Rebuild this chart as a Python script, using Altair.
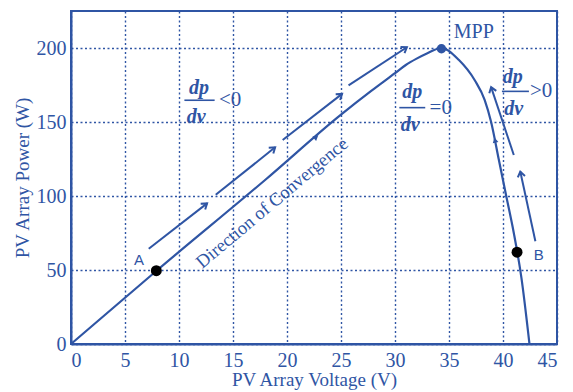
import math
import altair as alt
import pandas as pd

BLUE = "#2f55a4"
SERIF = "Liberation Serif"
SANS = "Liberation Sans"

# P-V curve
volt = [0, 8, 18, 25, 27.8, 30, 31, 32, 33, 34.3, 35.9, 37.4, 38.3, 38.9, 39.6, 40.3, 41.0, 41.7, 42.45]
power = [0, 50, 111, 155, 171, 183, 188.5, 192.8, 196.5, 200, 192, 178, 165, 150, 125, 100, 75, 45, 0]

# marked points
pt_name = ["A", "B"]
pt_v = [7.9, 41.3]
pt_p = [49.5, 62.0]
mpp_v = [34.3]
mpp_p = [199.5]

# point labels
lab_text = ["A", "B"]
lab_v = [6.3, 43.3]
lab_p = [57, 60]

# open arrows (start -> end)
arr_v1 = [7.2, 13.4, 19.6, 25.7, 41.0, 43.0]
arr_p1 = [64.3, 100.8, 137.8, 174.7, 127.7, 69.4]
arr_v2 = [12.6, 18.9, 25.1, 31.1, 38.9, 41.6]
arr_p2 = [95.0, 132.9, 169.0, 200.5, 173.6, 116.5]

# filled arrow heads on the curve (position, direction)
head_v = [22.9, 39.2]
head_p = [141.0, 139.5]
head_dv = [1.0, -0.6]
head_dp = [6.0, 18.0]

# fraction labels
frac_dp_v = [11.85, 31.6, 40.9]
frac_dp_p = [172.7, 170.2, 180.3]
frac_dv_v = [11.6, 31.4, 41.0]
frac_dv_p = [153.4, 147.8, 159.0]
bar_v1 = [10.5, 30.4, 39.9]
bar_v2 = [13.3, 32.8, 42.4]
bar_p = [164.7, 159.7, 170.7]
rel_text = ["<0", "=0", ">0"]
rel_v = [13.7, 33.2, 42.5]

X_MAX, Y_MAX = 45, 225
W, H = 486, 333
sx, sy = W / X_MAX, H / Y_MAX


def ang(dv, dp):
    return math.degrees(math.atan2(-dp * sy, dv * sx)) % 360


xs = alt.Scale(domain=[0, X_MAX], nice=False, zero=False)
ys = alt.Scale(domain=[0, Y_MAX], nice=False, zero=False)

curve_df = pd.DataFrame({"v": volt, "p": power})
base_x = alt.X("v:Q", scale=xs, title="PV Array Voltage (V)",
               axis=alt.Axis(values=list(range(0, 46, 5))))
base_y = alt.Y("p:Q", scale=ys, title="PV Array Power (W)",
               axis=alt.Axis(values=[0, 50, 100, 150, 200]))

curve = alt.Chart(curve_df).mark_line(color=BLUE, strokeWidth=2.2, interpolate="monotone").encode(
    x=base_x, y=base_y)

arr_df = pd.DataFrame({"v": arr_v1, "p": arr_p1, "v2": arr_v2, "p2": arr_p2})
arr_df["a"] = [ang(b - a, d - c) for a, b, c, d in zip(arr_v1, arr_v2, arr_p1, arr_p2)]
shafts = alt.Chart(arr_df).mark_rule(color=BLUE, strokeWidth=2).encode(
    x="v:Q", y="p:Q", x2="v2:Q", y2="p2:Q")
chev = alt.Chart(arr_df).mark_point(
    shape="M-1,-0.7L0,0L-1,0.7", filled=False, color=BLUE, strokeWidth=2, size=110, opacity=1
).encode(x="v2:Q", y="p2:Q", angle=alt.Angle("a:Q", scale=None))

head_df = pd.DataFrame({"v": head_v, "p": head_p})
head_df["a"] = [ang(a, b) for a, b in zip(head_dv, head_dp)]
heads = alt.Chart(head_df).mark_point(
    shape="M-1,-0.55L0,0L-1,0.55Z", filled=True, color=BLUE, size=110, opacity=1
).encode(x="v:Q", y="p:Q", angle=alt.Angle("a:Q", scale=None))

pts = alt.Chart(pd.DataFrame({"v": pt_v, "p": pt_p, "n": pt_name})).mark_circle(
    color="black", size=120, opacity=1).encode(x="v:Q", y="p:Q")
mpp = alt.Chart(pd.DataFrame({"v": mpp_v, "p": mpp_p})).mark_circle(
    color=BLUE, size=90, opacity=1).encode(x="v:Q", y="p:Q")

labs = alt.Chart(pd.DataFrame({"v": lab_v, "p": lab_p, "t": lab_text})).mark_text(
    font=SANS, fontSize=15, color=BLUE).encode(x="v:Q", y="p:Q", text="t:N")

mpp_lab = alt.Chart(pd.DataFrame({"v": [37.3], "p": [210.5], "t": ["MPP"]})).mark_text(
    font=SERIF, fontSize=20, color=BLUE).encode(x="v:Q", y="p:Q", text="t:N")

conv = alt.Chart(pd.DataFrame({"v": [18.6], "p": [95.5], "t": ["Direction of Convergence"]})).mark_text(
    font=SERIF, fontSize=18.5, color=BLUE, angle=320).encode(x="v:Q", y="p:Q", text="t:N")

dp = alt.Chart(pd.DataFrame({"v": frac_dp_v, "p": frac_dp_p})).mark_text(
    font=SERIF, fontSize=20, fontWeight="bold", fontStyle="italic", color=BLUE, text="dp"
).encode(x="v:Q", y="p:Q")
dv = alt.Chart(pd.DataFrame({"v": frac_dv_v, "p": frac_dv_p})).mark_text(
    font=SERIF, fontSize=20, fontWeight="bold", fontStyle="italic", color=BLUE, text="dv"
).encode(x="v:Q", y="p:Q")
bars = alt.Chart(pd.DataFrame({"v": bar_v1, "v2": bar_v2, "p": bar_p})).mark_rule(
    color=BLUE, strokeWidth=1.6).encode(x="v:Q", x2="v2:Q", y="p:Q")
rel = alt.Chart(pd.DataFrame({"v": rel_v, "p": bar_p, "t": rel_text})).mark_text(
    font=SERIF, fontSize=21, color=BLUE, align="left", baseline="middle").encode(
    x="v:Q", y="p:Q", text="t:N")

chart = alt.layer(curve, shafts, chev, heads, pts, mpp, labs, mpp_lab, conv, dp, dv, bars, rel).properties(
    width=W, height=H, padding={"left": 5, "top": 3, "right": 5, "bottom": 5}
).configure_view(stroke=BLUE, strokeWidth=2).configure_axis(
    grid=True, gridColor=BLUE, gridDash=[2, 2.5], gridWidth=1.4, gridOpacity=1,
    domainColor=BLUE, domainWidth=2, tickSize=0,
    labelColor=BLUE, titleColor=BLUE, labelFont=SERIF, titleFont=SERIF,
    labelFontSize=20, titleFontSize=19, titleFontWeight="normal", labelPadding=5,
    titlePadding=4
).configure_axisX(labelPadding=6, titlePadding=0)

chart.save("out.html", embed_options={"renderer": "svg", "actions": False})
